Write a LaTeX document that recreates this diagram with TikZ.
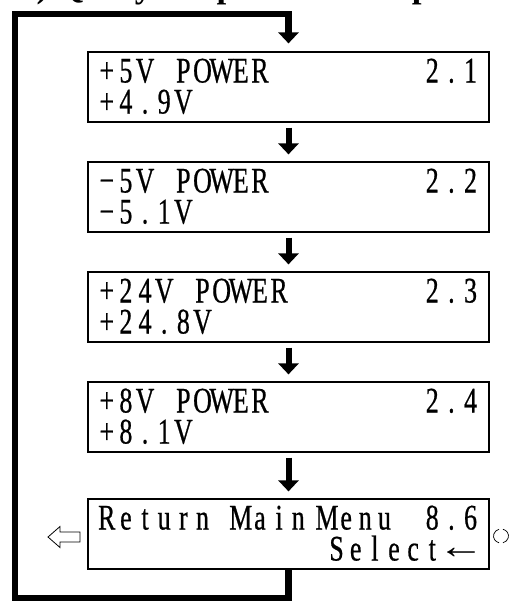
\documentclass[tikz,border=0pt]{standalone}
\usepackage{fontspec}
\setmainfont{Liberation Serif}
\newfontfamily\lcdfont[FakeStretch=0.72,FakeBold=0.6]{Liberation Serif}
\newfontfamily\lcdarrowfont[FakeStretch=1.3]{Liberation Serif}
\usetikzlibrary{arrows.meta}

% fixed-pitch character cells of the 20x2 LCD
\newlength\lcdcell
\setlength\lcdcell{19.15pt}
\def\lcdstop{LCDSTOP}
\def\lcdrow#1{\lcdnext#1\lcdstop}
\def\lcdnext#1{\ifx#1\lcdstop\else
  \ifx#1|\hspace*{.5\lcdcell}\else\makebox[\lcdcell][c]{#1}\fi
  \expandafter\lcdnext\fi}

\tikzset{
  lcdbox/.style={draw, line width=1.2pt, minimum width=401pt,
    minimum height=70pt, inner sep=0pt},
  lcd/.style={anchor=base west, inner sep=0pt,
    font=\lcdfont\fontsize{36}{36}\selectfont},
  flow/.style={line width=6pt, -{Triangle[width=20pt,length=11pt]},
    shorten <=5pt, shorten >=7pt},
  loopline/.style={line width=6.5pt, line join=miter,
    -{Triangle[width=20pt,length=11pt]}, shorten >=8pt},
  thin/.style={line width=0.8pt},
}

\begin{document}
\begin{tikzpicture}[x=1pt,y=-1pt]
\useasboundingbox (0,0) rectangle (516,603);
\clip (0,0) rectangle (516,603);

% heading line, cut by the top edge
\node[anchor=base west, inner sep=0pt,
  font=\bfseries\fontsize{35}{35}\selectfont] (title) at (19,-2.5)
  {2) Query the power of the power supply};

% display screens
\node[lcdbox] (b1) at (288.5,87)  {};
\node[lcdbox] (b2) at (288.5,197) {};
\node[lcdbox] (b3) at (288.5,307) {};
\node[lcdbox] (b4) at (288.5,417) {};
\node[lcdbox] (b5) at (288.5,534) {};

% screen texts
\node[lcd] (l1a) at (97,82.5)  {\lcdrow{+5V~POWER}};
\node[lcd] (n1)  at (422.5,82.5) {\lcdrow{2.1}};
\node[lcd] (l1b) at (97,113.5) {\lcdrow{+4.9V}};

\node[lcd] (l2a) at (97,192.5) {\lcdrow{−5V~POWER}};
\node[lcd] (n2)  at (422.5,192.5) {\lcdrow{2.2}};
\node[lcd] (l2b) at (97,223.5) {\lcdrow{−5.1V}};

\node[lcd] (l3a) at (97,302.5) {\lcdrow{+24V~POWER}};
\node[lcd] (n3)  at (422.5,302.5) {\lcdrow{2.3}};
\node[lcd] (l3b) at (97,333.5) {\lcdrow{+24.8V}};

\node[lcd] (l4a) at (97,412.5) {\lcdrow{+8V~POWER}};
\node[lcd] (n4)  at (422.5,412.5) {\lcdrow{2.4}};
\node[lcd] (l4b) at (97,443.5) {\lcdrow{+8.1V}};

\node[lcd] (l5a) at (97,529.5) {\lcdrow{Return~Main|Menu}};
\node[lcd] (n5)  at (422.5,529.5) {\lcdrow{8.6}};
\node[lcd] (l5b) at (326.8,560.5)
  {\lcdrow{Select}\makebox[2\lcdcell][c]{\lcdarrowfont\raisebox{2pt}{←}}};

% downward flow between screens
\draw[flow] (b1.south) -- (b2.north);
\draw[flow] (b2.south) -- (b3.north);
\draw[flow] (b3.south) -- (b4.north);
\draw[flow] (b4.south) -- (b5.north);

% return loop back to the first screen
\coordinate (lb) at (15,598);
\coordinate (lt) at (15,14);
\draw[loopline] (b5.south) |- (lb) -- (lt) -| (b1.north);

% key symbols beside the last screen
\draw[thin, line join=miter] (48,537) -- (60,526.5) -- (60,532) -- (80,532)
  -- (80,542) -- (60,542) -- (60,547.5) -- cycle;
\coordinate (ok) at (501,536);
\draw[line width=0.7pt] ([shift={(105:7.5 and 7)}]ok) arc[start angle=105, end angle=255, x radius=7.5, y radius=7];
\draw[line width=0.7pt] ([shift={(-75:7.5 and 7)}]ok) arc[start angle=-75, end angle=75, x radius=7.5, y radius=7];
\end{tikzpicture}
\end{document}
